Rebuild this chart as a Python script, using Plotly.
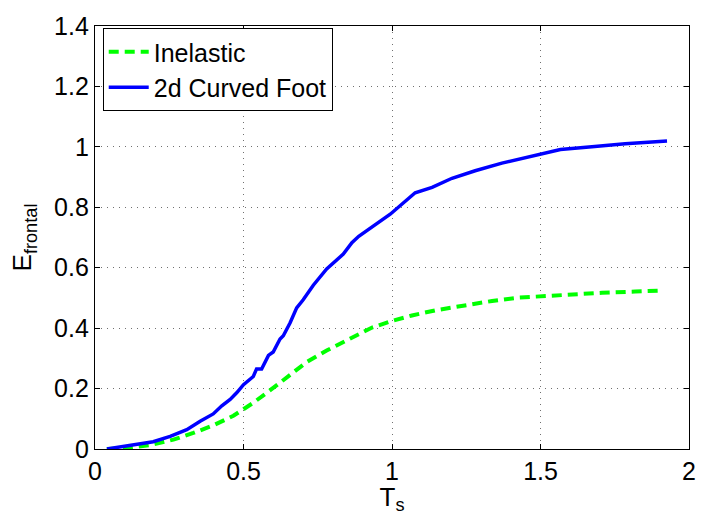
import plotly.graph_objects as go

blue_x = [0.04, 0.129, 0.196, 0.253, 0.309, 0.354, 0.398, 0.427, 0.455, 0.477, 0.50, 0.533, 0.544, 0.561,
          0.584, 0.600, 0.623, 0.634, 0.657, 0.679, 0.701, 0.735, 0.780, 0.836, 0.865, 0.888, 0.921, 0.994,
          1.078, 1.135, 1.202, 1.280, 1.370, 1.449, 1.567, 1.673, 1.785, 1.926]
blue_y = [0.0, 0.013, 0.024, 0.042, 0.064, 0.092, 0.116, 0.143, 0.164, 0.186, 0.213, 0.240, 0.265, 0.265,
          0.310, 0.321, 0.364, 0.375, 0.418, 0.467, 0.494, 0.542, 0.596, 0.645, 0.683, 0.704, 0.726, 0.777,
          0.848, 0.866, 0.896, 0.921, 0.946, 0.964, 0.991, 1.000, 1.010, 1.019]

green_x = [0.04, 0.107, 0.185, 0.264, 0.331, 0.398, 0.466, 0.533, 0.600, 0.657, 0.713, 0.780, 0.847, 0.892,
           0.933, 1.0, 1.067, 1.146, 1.236, 1.337, 1.426, 1.505, 1.595, 1.707, 1.819, 1.898]
green_y = [0.0, 0.003, 0.013, 0.031, 0.053, 0.078, 0.110, 0.153, 0.202, 0.245, 0.288, 0.326, 0.359, 0.380,
           0.402, 0.424, 0.442, 0.459, 0.475, 0.490, 0.501, 0.506, 0.513, 0.517, 0.521, 0.524]

x_ticks = [0, 0.5, 1, 1.5, 2]
x_labels = ["0", "0.5", "1", "1.5", "2"]
y_ticks = [0, 0.2, 0.4, 0.6, 0.8, 1, 1.2, 1.4]
y_labels = ["0", "0.2", "0.4", "0.6", "0.8", "1", "1.2", "1.4"]

fig = go.Figure()
fig.add_trace(go.Scatter(x=green_x, y=green_y, mode="lines", name="Inelastic",
                         line=dict(color="#00ff00", width=4, dash="10px,6px")))
fig.add_trace(go.Scatter(x=blue_x, y=blue_y, mode="lines", name="2d Curved Foot",
                         line=dict(color="#0000ff", width=3.5)))

font = "Liberation Sans, Arial, Helvetica, sans-serif"
axis_common = dict(showline=True, linecolor="black", linewidth=1.3, mirror="ticks",
                   ticks="inside", ticklen=5, tickcolor="black", tickwidth=1,
                   showgrid=True, gridcolor="#707070", griddash="1px,5px", gridwidth=1,
                   zeroline=False, tickfont=dict(size=25, color="black", family=font))

fig.update_layout(
    width=712, height=515,
    margin=dict(l=95, r=23, t=17, b=66),
    paper_bgcolor="white", plot_bgcolor="white",
    showlegend=True,
    legend=dict(x=0.013, y=0.995, xanchor="left", yanchor="top",
                bgcolor="white", bordercolor="black", borderwidth=1,
                font=dict(size=25, color="black", family=font),
                tracegroupgap=0, itemwidth=40),
    xaxis=dict(range=[0, 2], tickvals=x_ticks, ticktext=x_labels,
               title=dict(text="T<sub>s</sub>", font=dict(size=26, color="black", family=font), standoff=0),
               **axis_common),
    yaxis=dict(range=[0, 1.4], tickvals=y_ticks, ticktext=y_labels,
               title=dict(text="E<sub>frontal</sub>", font=dict(size=26, color="black", family=font), standoff=14),
               **axis_common),
)

fig.write_html("out.html")
